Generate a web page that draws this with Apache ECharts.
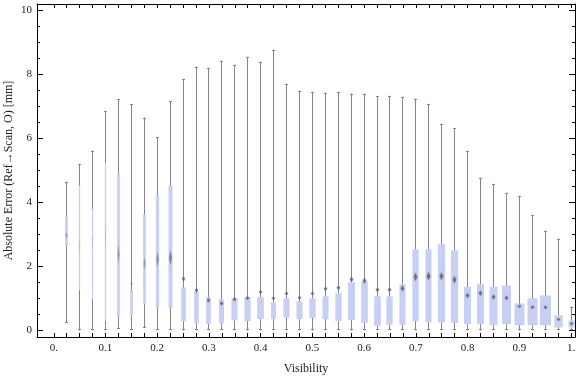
<!DOCTYPE html>
<html>
<head>
<meta charset="utf-8">
<script src="https://cdn.jsdelivr.net/npm/echarts/dist/echarts.min.js"></script>
<style>
html,body{margin:0;padding:0;background:#fff;}
#chart{width:576px;height:377px;}
</style>
</head>
<body>
<div id="chart"></div>
<script>
// ---- data ----
var visibility = [0.025,0.05,0.075,0.1,0.125,0.15,0.175,0.2,0.225,0.25,0.275,0.3,0.325,0.35,0.375,0.4,0.425,0.45,0.475,0.5,0.525,0.55,0.575,0.6,0.625,0.65,0.675,0.7,0.725,0.75,0.775,0.8,0.825,0.85,0.875,0.9,0.925,0.95,0.975,1.0];
var whiskerLow = [0.23,0.0,0.0,0.0,0.04,0.02,0.07,0.02,0.02,0.0,0.0,0.0,0.0,0.0,0.0,0.0,0.0,0.0,0.0,0.0,0.0,0.0,0.0,0.0,0.0,0.0,0.0,0.0,0.0,0.0,0.0,0.0,0.0,0.0,0.0,0.0,0.0,0.0,0.0,0.0];
var q1 = [2.65,1.25,0.97,0.29,0.44,0.48,0.83,0.71,0.70,0.28,0.22,0.20,0.22,0.31,0.29,0.35,0.35,0.39,0.35,0.39,0.35,0.29,0.32,0.23,0.14,0.17,0.17,0.28,0.25,0.25,0.23,0.19,0.19,0.16,0.19,0.16,0.16,0.16,0.09,0.09];
var median = [2.97,2.65,2.75,2.9,2.38,1.46,2.08,2.22,2.27,1.61,1.25,0.94,0.84,0.97,1.01,1.20,1.0,1.15,1.02,1.15,1.30,1.33,1.59,1.55,1.27,1.27,1.31,1.67,1.69,1.69,1.58,1.09,1.16,1.04,1.01,0.75,0.72,0.72,0.34,0.21];
var q3 = [3.55,4.52,3.80,5.23,4.90,1.24,3.62,4.22,4.52,1.34,1.19,1.03,0.97,1.0,1.03,1.03,0.875,1.0,0.91,1.0,1.06,1.16,1.50,1.53,1.06,1.06,1.44,2.53,2.53,2.69,2.50,1.36,1.44,1.36,1.40,0.84,1.0,1.09,0.47,0.31];
var whiskerHigh = [4.65,5.2,5.62,6.84,7.22,7.06,6.65,6.03,7.16,7.86,8.24,8.21,8.43,8.30,8.55,8.40,8.77,7.71,7.49,7.46,7.43,7.46,7.40,7.40,7.33,7.33,7.30,7.24,7.08,6.46,6.33,5.61,4.77,4.58,4.30,4.21,3.59,3.11,2.86,0.74];
// relative sample size of each bin (drives box width)
var relCount = [0.25,0.12,0.12,0.12,0.25,0.25,0.25,0.30,0.36,0.43,0.43,0.43,0.45,0.55,0.57,0.61,0.45,0.55,0.55,0.57,0.55,0.57,0.64,0.61,0.61,0.57,0.55,0.57,0.55,0.66,0.66,0.64,0.64,0.73,0.82,0.91,0.91,1.0,0.75,0.55];

var xTickLabels = [0,0.1,0.2,0.3,0.4,0.5,0.6,0.7,0.8,0.9,1];
var xMinorTicks = [];
for (var i = 0; i <= 40; i++) xMinorTicks.push(Math.round(i * 25) / 1000);
var yTickLabels = [0,2,4,6,8,10];
var yMinorTicks = [];
for (var j = 0; j <= 20; j++) yMinorTicks.push(j * 0.5);

var source = visibility.map(function (v, k) {
  return [v, whiskerLow[k], q1[k], median[k], q3[k], whiskerHigh[k], relCount[k]];
});

var XMIN = -0.0324, XMAX = 1.0077, YMIN = -0.21, YMAX = 10.2;
var FONT = 'Liberation Serif';
var MAX_BOX_W = 11;

function xLabelFmt(v) {
  if (v === 0) return '0.';
  if (v === 1) return '1.';
  return String(v);
}

function mkX(pos, showLabel, ticks, len, showLine) {
  return {
    type: 'value', position: pos, min: XMIN, max: XMAX,
    splitLine: {show: false},
    axisLine: {show: showLine, onZero: false, lineStyle: {color: '#000', width: 1}},
    axisTick: {show: true, inside: true, length: len, customValues: ticks, lineStyle: {color: '#000', width: 1}},
    axisLabel: showLabel ? {show: true, customValues: xTickLabels, formatter: xLabelFmt, margin: 6,
      fontFamily: FONT, fontSize: 11, color: '#222'} : {show: false}
  };
}
function mkY(pos, showLabel, ticks, len, showLine) {
  return {
    type: 'value', position: pos, min: YMIN, max: YMAX,
    splitLine: {show: false},
    axisLine: {show: showLine, onZero: false, lineStyle: {color: '#000', width: 1}},
    axisTick: {show: true, inside: true, length: len, customValues: ticks, lineStyle: {color: '#000', width: 1}},
    axisLabel: showLabel ? {show: true, customValues: yTickLabels, margin: 5,
      fontFamily: FONT, fontSize: 11, color: '#222'} : {show: false}
  };
}

var xMain = mkX('bottom', true, xMinorTicks, 4, true);
xMain.name = 'Visibility';
xMain.nameLocation = 'middle';
xMain.nameGap = 26;
xMain.nameTextStyle = {fontFamily: FONT, fontSize: 12, color: '#222'};

var yMain = mkY('left', true, yTickLabels, 6, true);
yMain.name = 'Absolute Error (Ref\u2192Scan, O) [mm]';
yMain.nameLocation = 'middle';
yMain.nameGap = 22;
yMain.nameMoveOverlap = false;
yMain.nameTextStyle = {fontFamily: FONT, fontSize: 12, color: '#222'};

var option = {
  animation: false,
  backgroundColor: '#fff',
  grid: {left: 37, right: 1, top: 4, bottom: 40, containLabel: false, outerBoundsMode: 'none'},
  xAxis: [xMain, mkX('top', false, xMinorTicks, 4, true)],
  yAxis: [
    yMain,
    mkY('left', false, yMinorTicks, 3, false),
    mkY('right', false, yTickLabels, 6, true),
    mkY('right', false, yMinorTicks, 3, false)
  ],
  series: [{
    type: 'custom',
    xAxisIndex: 0, yAxisIndex: 0,
    data: source,
    clip: false,
    renderItem: function (params, api) {
      var x = api.value(0);
      var pLo = api.coord([x, api.value(1)]);
      var pQ1 = api.coord([x, api.value(2)]);
      var pMd = api.coord([x, api.value(3)]);
      var pQ3 = api.coord([x, api.value(4)]);
      var pHi = api.coord([x, api.value(5)]);
      var w = api.value(6) * MAX_BOX_W;
      var cx = Math.round(pLo[0] - 0.5) + 0.5;
      var iqrPx = pQ1[1] - pQ3[1];
      var mh = Math.max(0.6, 0.032 * iqrPx / Math.sqrt(api.value(6)));
      var mw = Math.min(1.8, w * 0.35);
      var op = Math.min(1, w / 5);
      var grey = '#858585';
      return {
        type: 'group',
        children: [
          {type: 'line', shape: {x1: cx, y1: pLo[1], x2: cx, y2: pHi[1]}, style: {stroke: grey, lineWidth: 1}},
          {type: 'line', shape: {x1: cx - 1.5, y1: Math.round(pHi[1]) + 0.5, x2: cx + 1.5, y2: Math.round(pHi[1]) + 0.5}, style: {stroke: grey, lineWidth: 1}},
          {type: 'line', shape: {x1: cx - 1.5, y1: Math.round(pLo[1]) - 0.5, x2: cx + 1.5, y2: Math.round(pLo[1]) - 0.5}, style: {stroke: grey, lineWidth: 1}},
          {type: 'rect', shape: {x: cx - w / 2, y: pQ3[1], width: w, height: pQ1[1] - pQ3[1]}, style: {fill: '#c8cff4'}},
          {type: 'polygon', shape: {points: [[cx, pMd[1] - mh - 1], [cx + mw, pMd[1]], [cx, pMd[1] + mh + 1], [cx - mw, pMd[1]]]},
            style: {fill: 'rgba(100,100,100,' + (0.8 * op) + ')', shadowBlur: 1.5, shadowColor: 'rgba(100,100,100,' + (0.6 * op) + ')'}}
        ]
      };
    }
  }]
};

var chart = echarts.init(document.getElementById('chart'), null, {renderer: 'canvas'});
chart.setOption(option);
</script>
</body>
</html>
